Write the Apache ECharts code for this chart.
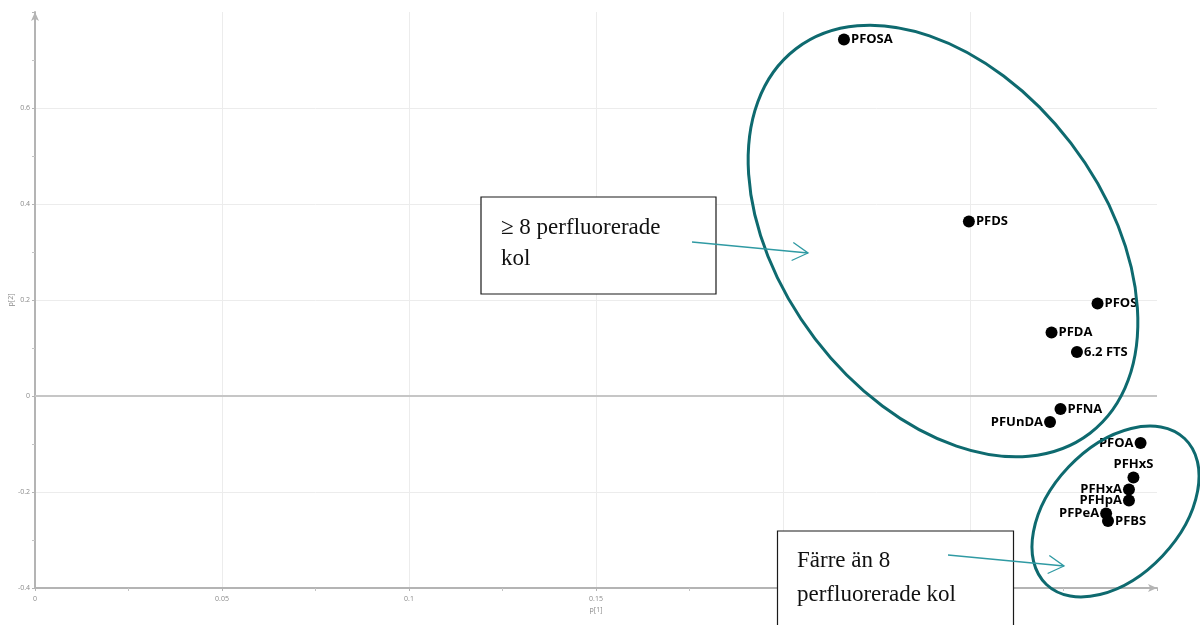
<!DOCTYPE html>
<html>
<head>
<meta charset="utf-8">
<script src="https://cdn.jsdelivr.net/npm/echarts@6/dist/echarts.min.js"></script>
<style>
  html, body { margin: 0; padding: 0; background: #ffffff; }
  #chart { width: 1200px; height: 625px; }
</style>
</head>
<body>
<div id="chart"></div>
<script>
// PCA loadings: p[1] (x) against p[2] (y) for each PFAS compound
const compounds = ['PFOSA', 'PFDS', 'PFOS', 'PFDA', '6.2 FTS', 'PFNA', 'PFUnDA',
                   'PFOA', 'PFHxS', 'PFHxA', 'PFHpA', 'PFPeA', 'PFBS'];
const p1 = [0.2163, 0.2497, 0.2841, 0.2718, 0.2786, 0.2742, 0.2714,
            0.2956, 0.2937, 0.2925, 0.2925, 0.2864, 0.2869];
const p2 = [0.7427, 0.3635, 0.1927, 0.1323, 0.0917, -0.0271, -0.0542,
            -0.0979, -0.1698, -0.1948, -0.2177, -0.2448, -0.2604];

// axis ranges and tick spacing
const xRange = [0, 0.3];
const xStep = 0.05;
const yRange = [-0.4, 0.8];
const yStep = 0.2;

// annotation texts
const groupLong = ['\u2265 8 perfluorerade', 'kol'];
const groupShort = ['F\u00e4rre \u00e4n 8', 'perfluorerade kol'];

// label placement per compound (default: right of the dot)
const labelSide = { PFUnDA: 'left', PFOA: 'left', PFHxA: 'left', PFHpA: 'left', PFPeA: 'left', PFHxS: 'top' };

const TEAL = '#0e6a6f';
const ARROW = '#2f9aa3';
const SERIF = "23px 'Liberation Serif', 'DejaVu Serif', serif";

function arrow(x1, y1, x2, y2) {
  const ang = Math.atan2(y2 - y1, x2 - x1);
  const len = 18, spread = Math.PI / 6;
  const a1 = [x2 - len * Math.cos(ang - spread), y2 - len * Math.sin(ang - spread)];
  const a2 = [x2 - len * Math.cos(ang + spread), y2 - len * Math.sin(ang + spread)];
  const style = { stroke: ARROW, lineWidth: 1.3, fill: null };
  return [
    { type: 'polyline', z: 110, silent: true, shape: { points: [[x1, y1], [x2, y2]] }, style },
    { type: 'polyline', z: 110, silent: true, shape: { points: [a1, [x2, y2], a2] }, style }
  ];
}

function textBox(x, y, w, h, lines, tx, ty, gap) {
  const els = [{
    type: 'rect', z: 100, silent: true,
    shape: { x: x, y: y, width: w, height: h },
    style: { fill: '#ffffff', stroke: '#1a1a1a', lineWidth: 1.2 }
  }];
  lines.forEach((t, i) => {
    els.push({
      type: 'text', z: 101, silent: true,
      style: { text: t, x: tx, y: ty + i * gap, font: SERIF, fill: '#111111',
               align: 'left', verticalAlign: 'middle' }
    });
  });
  return els;
}

const chart = echarts.init(document.getElementById('chart'), null, { renderer: 'canvas' });

const axisLabelStyle = { fontSize: 7, color: '#8a8a8a', fontFamily: 'Open Sans' };

chart.setOption({
  animation: false,
  backgroundColor: '#ffffff',
  grid: { left: 35, right: 43, top: 12, bottom: 37, containLabel: false, outerBoundsMode: 'none' },
  xAxis: {
    type: 'value', min: xRange[0], max: xRange[1], interval: xStep,
    name: 'p[1]', nameLocation: 'middle', nameGap: 18, nameMoveOverlap: false,
    nameTextStyle: axisLabelStyle,
    axisLine: { show: true, onZero: false, symbol: ['none', 'arrow'], symbolSize: [6, 9],
                lineStyle: { color: '#b4b4b4', width: 2 } },
    axisTick: { show: true, length: 3, lineStyle: { color: '#b4b4b4' } },
    minorTick: { show: true, splitNumber: 2, length: 3, lineStyle: { color: '#c4c4c4' } },
    axisLabel: Object.assign({ margin: 7, showMaxLabel: false,
                 formatter: v => String(+v.toFixed(2)) }, axisLabelStyle),
    splitLine: { show: true, showMinLine: false, showMaxLine: false,
                 lineStyle: { color: '#ececec', width: 1 } }
  },
  yAxis: {
    type: 'value', min: yRange[0], max: yRange[1], interval: yStep,
    name: 'p[2]', nameLocation: 'middle', nameGap: 21, nameRotate: 90, nameMoveOverlap: false,
    nameTextStyle: axisLabelStyle,
    axisLine: { show: true, onZero: false, symbol: ['none', 'arrow'], symbolSize: [6, 9],
                lineStyle: { color: '#b4b4b4', width: 2 } },
    axisTick: { show: true, length: 3, lineStyle: { color: '#b4b4b4' } },
    minorTick: { show: true, splitNumber: 2, length: 3, lineStyle: { color: '#c4c4c4' } },
    axisLabel: Object.assign({ margin: 5, showMaxLabel: false,
                 formatter: v => String(+v.toFixed(1)) }, axisLabelStyle),
    splitLine: { show: true, showMinLine: false, showMaxLine: false,
                 lineStyle: { color: '#ececec', width: 1 } }
  },
  series: [{
    type: 'scatter',
    symbol: 'circle',
    symbolSize: 12,
    itemStyle: { color: '#000000', opacity: 1 },
    label: {
      show: true, formatter: '{b}', position: 'right', distance: 1,
      fontFamily: 'Open Sans', fontWeight: 'bold', fontSize: 13, color: '#000000'
    },
    data: compounds.map((n, i) => ({
      name: n, value: [p1[i], p2[i]],
      label: { position: labelSide[n] || 'right' }
    })),
    markLine: {
      silent: true, symbol: 'none', label: { show: false },
      lineStyle: { color: '#c6c6c6', width: 2, type: 'solid' },
      data: [{ yAxis: 0 }]
    }
  }],
  graphic: [
    // group outlines
    { type: 'ellipse', z: 105, silent: true, x: 943, y: 241, rotation: -0.918,
      shape: { cx: 0, cy: 0, rx: 242, ry: 161 },
      style: { fill: null, stroke: TEAL, lineWidth: 3 } },
    { type: 'ellipse', z: 105, silent: true, x: 1115.5, y: 511.5, rotation: 0.813,
      shape: { cx: 0, cy: 0, rx: 100.5, ry: 64.7 },
      style: { fill: null, stroke: TEAL, lineWidth: 3 } },
    // callout boxes
    ...textBox(481, 197, 235, 97, groupLong, 501, 227.5, 31.5),
    ...textBox(777.5, 531, 236, 110, groupShort, 797, 561, 34),
    // arrows from the boxes into the groups
    ...arrow(692, 242, 808, 253),
    ...arrow(948, 555, 1064, 566)
  ]
});
</script>
</body>
</html>
